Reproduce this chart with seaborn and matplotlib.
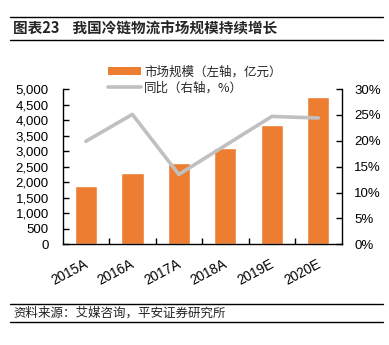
import matplotlib
matplotlib.use("Agg")
import matplotlib.pyplot as plt
import matplotlib.transforms as mtransforms
import seaborn as sns
import pandas as pd
from matplotlib.ticker import FuncFormatter, FixedLocator
from matplotlib.lines import Line2D
from matplotlib.patches import Patch

years = ["2015A", "2016A", "2017A", "2018A", "2019E", "2020E"]
market_size = [1870, 2300, 2610, 3110, 3850, 4750]
yoy = [19.9, 25.1, 13.5, 19.1, 24.7, 24.4]
bar_label = "市场规模（左轴，亿元）"
line_label = "同比（右轴，%）"
title = "图表23    我国冷链物流市场规模持续增长"
source = "资料来源：艾媒咨询，平安证券研究所"

sns.set_style("white")
FAM = ["Liberation Sans", "Noto Sans CJK SC", "DejaVu Sans"]
plt.rcParams["font.family"] = FAM

df = pd.DataFrame({"year": years, "size": market_size, "yoy": yoy})

fig = plt.figure(figsize=(3.89, 3.45), dpi=100)
ax = fig.add_axes([0.161, 0.292, 0.717, 0.450])
ORANGE = "#ED7D31"
GRAY = "#C0C0C0"

sns.barplot(data=df, x="year", y="size", color=ORANGE, width=0.48,
            saturation=1, ax=ax, zorder=2)
ax.set_xlim(-0.5, len(years) - 0.5)
ax.set_ylim(0, 5000)
ax.set_yticks(range(0, 5001, 500))
ax.yaxis.set_major_formatter(FuncFormatter(lambda v, p: f"{int(v):,}"))
ax.set_xlabel("")
ax.set_ylabel("")

ax2 = ax.twinx()
sns.lineplot(data=df, x="year", y="yoy", color=GRAY, linewidth=2.6,
             ax=ax2, sort=False, zorder=3)
ax2.set_ylim(0, 30)
ax2.set_yticks(range(0, 31, 5))
ax2.yaxis.set_major_formatter(FuncFormatter(lambda v, p: f"{int(v)}%"))
ax2.set_xlim(-0.5, len(years) - 0.5)
ax2.set_ylabel("")
ax2.set_xlabel("")

for a in (ax, ax2):
    for s in a.spines.values():
        s.set_visible(False)
    a.grid(False)
ax.spines["left"].set_visible(True)
ax.spines["bottom"].set_visible(True)
ax2.spines["right"].set_visible(True)
for s in (ax.spines["left"], ax.spines["bottom"], ax2.spines["right"]):
    s.set_color("black")
    s.set_linewidth(1.0)

ax.tick_params(axis="y", direction="in", length=4, width=1, pad=10,
               labelsize=9.5, left=True, colors="black")
ax2.tick_params(axis="y", direction="in", length=4, width=1, pad=9,
                labelsize=9.5, right=True, colors="black")
ax.tick_params(axis="x", which="major", length=0, pad=9, labelsize=9.8)
ax.xaxis.set_minor_locator(FixedLocator([i + 0.5 for i in range(len(years) - 1)]))
ax.tick_params(axis="x", which="minor", direction="in", length=4, width=1,
               bottom=True, colors="black")
shift = mtransforms.ScaledTranslation(-2 / 100, 0, fig.dpi_scale_trans)
for lbl in ax.get_xticklabels():
    lbl.set_rotation(28)
    lbl.set_ha("right")
    lbl.set_rotation_mode("anchor")
    lbl.set_color("black")
    lbl.set_transform(lbl.get_transform() + shift)
for lbl in ax.get_yticklabels() + ax2.get_yticklabels():
    lbl.set_color("black")

handles = [Patch(facecolor=ORANGE, edgecolor="none"),
           Line2D([0], [0], color=GRAY, linewidth=2.6)]
fig.legend(handles, [bar_label, line_label], loc="upper left",
           bbox_to_anchor=(0.265, 0.825), frameon=False, ncol=1,
           fontsize=9, handlelength=2.6, handleheight=0.55, handletextpad=0.3,
           labelspacing=0.25, borderaxespad=0,
           prop={"family": ["Noto Sans CJK SC"], "size": 9})

# title and source with rules
fig.add_artist(Line2D([10 / 389, 383 / 389], [1 - 16.7 / 345] * 2,
                      color="black", lw=1.0, transform=fig.transFigure))
fig.add_artist(Line2D([10 / 389, 383 / 389], [1 - 40 / 345] * 2,
                      color="black", lw=1.0, transform=fig.transFigure))
fig.text(13 / 389, 1 - 28.5 / 345, title, fontsize=10.5, fontweight="bold",
         family=["Noto Sans CJK SC"], va="center", ha="left")
fig.add_artist(Line2D([10 / 389, 383 / 389], [1 - 304 / 345] * 2,
                      color="black", lw=1.0, transform=fig.transFigure))
fig.add_artist(Line2D([10 / 389, 383 / 389], [1 - 322.3 / 345] * 2,
                      color="black", lw=1.0, transform=fig.transFigure))
fig.text(13 / 389, 1 - 313.5 / 345, source, fontsize=9, style="italic",
         family=["Noto Sans CJK SC"], va="center", ha="left", color="#222222")

fig.savefig("out.png", dpi=100)
